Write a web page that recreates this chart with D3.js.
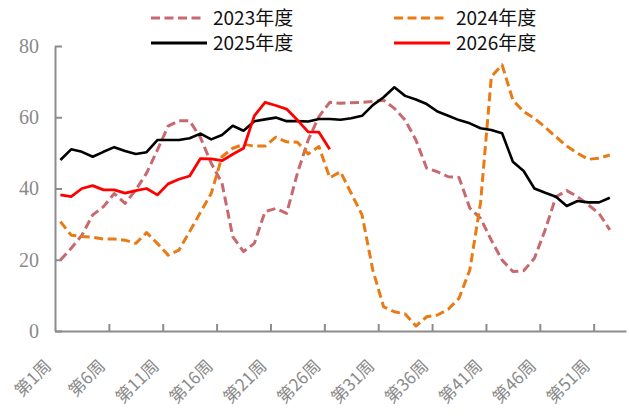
<!DOCTYPE html>
<html>
<head>
<meta charset="utf-8">
<script src="https://cdn.jsdelivr.net/npm/d3@7/dist/d3.min.js"></script>
<style>
  html, body { margin: 0; padding: 0; background: #fff; }
  svg { display: block; }
</style>
</head>
<body>
<svg id="chart" width="629" height="416"></svg>
<script>
// Weekly series, weeks 1..52 (2026 runs through week 26)
const weekCount = 53;
const weeks = d3.range(1, weekCount + 1).map(w => "第" + w + "周");
const labelWeeks = ["第1周", "第6周", "第11周", "第16周", "第21周", "第26周", "第31周", "第36周", "第41周", "第46周", "第51周"];
const yTicks = [0, 20, 40, 60, 80];

const s2023 = [19.9, 23.2, 26.9, 32.6, 34.9, 38.6, 35.8, 39.6, 44.3, 50.8, 57.5, 59.0, 59.0, 54.3, 47.1, 41.5, 26.5, 22.3, 24.6, 33.5,
  34.4, 33.0, 44.3, 53.6, 60.2, 64.2, 63.9, 64.1, 64.2, 64.4, 64.8, 62.5, 59.2, 53.6, 45.7, 44.7, 43.3, 43.1, 34.5, 31.6,
  25.5, 19.9, 16.7, 16.9, 20.4, 28.4, 37.7, 39.4, 37.7, 35.4, 33.0, 28.4];
const s2024 = [30.7, 26.9, 26.5, 26.3, 25.8, 25.8, 25.5, 24.6, 27.6, 24.6, 21.3, 22.7, 27.9, 33.3, 38.6, 48.9, 51.3, 52.4, 51.9, 51.9,
  54.4, 53.1, 53.0, 49.7, 51.8, 43.0, 44.7, 38.6, 32.6, 17.1, 6.8, 5.4, 4.8, 1.4, 4.0, 4.5, 6.1, 9.2, 17.1, 36.0,
  71.4, 74.7, 64.8, 61.6, 59.7, 57.2, 54.5, 51.9, 49.9, 48.2, 48.5, 49.4];
const s2025 = [48.0, 51.0, 50.3, 48.9, 50.3, 51.6, 50.5, 49.7, 50.2, 53.6, 53.6, 53.6, 54.1, 55.4, 53.8, 55.0, 57.6, 56.2, 58.9, 59.4,
  59.9, 58.9, 58.9, 58.8, 59.5, 59.5, 59.3, 59.7, 60.4, 63.4, 65.6, 68.4, 66.0, 65.0, 63.7, 61.6, 60.4, 59.2, 58.3, 56.9,
  56.4, 55.5, 47.5, 44.9, 40.0, 38.8, 37.7, 35.1, 36.5, 36.1, 36.1, 37.4];
const s2026 = [38.2, 37.7, 40.0, 40.8, 39.6, 39.6, 38.7, 39.4, 40.0, 38.2, 41.3, 42.6, 43.5, 48.4, 48.3, 47.8, 49.6, 51.3, 60.4, 64.2,
  63.3, 62.3, 59.2, 55.9, 55.8, 51.0];

const seriesNames = ["2023年度", "2024年度", "2025年度", "2026年度"];
const seriesValues = [s2023, s2024, s2025, s2026];
const seriesStyle = [
  { color: "#c8686f", width: 3, dash: "9,4.5" },
  { color: "#e97a14", width: 3, dash: "9,4.5" },
  { color: "#000000", width: 2.6, dash: null },
  { color: "#ff0000", width: 2.8, dash: null }
];

const svg = d3.select("#chart");
const plotLeft = 55, plotRight = 626, plotTop = 46, plotBottom = 331;
const axisColor = "#8c8c8c";

const x = d3.scaleBand().domain(weeks).range([plotLeft, plotRight]).padding(0);
const xEdge = d3.scaleLinear().domain([0, weekCount]).range([plotLeft, plotRight]);
const y = d3.scaleLinear().domain([0, 80]).range([plotBottom, plotTop]);
const cx = w => x(w) + x.bandwidth() / 2;

// Y axis with inward ticks
const yAxis = svg.append("g")
  .attr("transform", `translate(${plotLeft},0)`)
  .call(d3.axisLeft(y).tickValues(yTicks).tickSize(-7).tickSizeOuter(0).tickPadding(16));
yAxis.select(".domain").attr("stroke", axisColor).attr("stroke-width", 2);
yAxis.selectAll(".tick line").attr("stroke", axisColor).attr("stroke-width", 2);
yAxis.selectAll(".tick text")
  .attr("fill", "#8a8a8a")
  .style("font-family", "'Liberation Serif', 'DejaVu Serif', serif")
  .style("font-size", "20px");

// X axis: tick marks between categories every 5 weeks
const xAxis = svg.append("g")
  .attr("transform", `translate(0,${plotBottom})`)
  .call(d3.axisBottom(xEdge).tickValues(d3.range(5, weekCount, 5)).tickSize(-7).tickSizeOuter(0).tickFormat(""));
xAxis.select(".domain").attr("stroke", axisColor).attr("stroke-width", 2);
xAxis.selectAll(".tick line").attr("stroke", axisColor).attr("stroke-width", 2);

// X labels, rotated
const xLab = svg.append("g")
  .attr("transform", `translate(0,${plotBottom})`)
  .call(d3.axisBottom(x).tickValues(labelWeeks).tickSize(0));
xLab.select(".domain").remove();
xLab.selectAll(".tick text")
  .attr("x", 0).attr("y", 0).attr("dy", 0)
  .attr("text-anchor", "end")
  .attr("transform", "translate(-8,36) rotate(-45)")
  .attr("fill", "#8a8a8a")
  .style("font-family", "'Noto Sans CJK SC', sans-serif")
  .style("font-size", "17px");

// Series lines
const line = d3.line().x((d, i) => cx(weeks[i])).y(d => y(d));
seriesValues.forEach((vals, k) => {
  const st = seriesStyle[k];
  svg.append("path")
    .datum(vals)
    .attr("d", line)
    .attr("fill", "none")
    .attr("stroke", st.color)
    .attr("stroke-width", st.width)
    .attr("stroke-dasharray", st.dash)
    .attr("stroke-linejoin", "round");
});

// Legend, two columns
const legendPos = [[151, 18], [394, 18], [151, 43], [394, 43]];
seriesNames.forEach((name, k) => {
  const st = seriesStyle[k];
  const [lx, ly] = legendPos[k];
  const g = svg.append("g").attr("transform", `translate(${lx},${ly})`);
  g.append("line")
    .attr("x1", 0).attr("x2", st.dash ? 50 : 56)
    .attr("y1", 0).attr("y2", 0)
    .attr("stroke", st.color)
    .attr("stroke-width", 3)
    .attr("stroke-dasharray", st.dash);
  g.append("text")
    .attr("x", 62).attr("y", 0).attr("dy", "0.35em")
    .attr("fill", "#111")
    .style("font-family", "'Noto Sans CJK SC', sans-serif")
    .style("font-size", "19px")
    .text(name);
});
</script>
</body>
</html>
